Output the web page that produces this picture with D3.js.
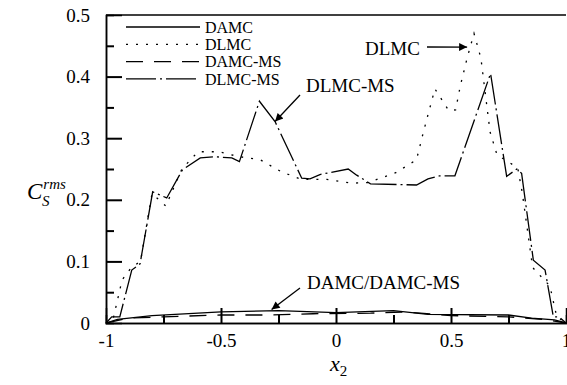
<!DOCTYPE html>
<html>
<head>
<meta charset="utf-8">
<script src="https://cdn.jsdelivr.net/npm/d3@7"></script>
<style>
  body { margin: 0; background: #fff; }
  svg text { font-family: "Liberation Serif", "Times New Roman", Times, "DejaVu Serif", serif; fill: #000; }
</style>
</head>
<body>
<div id="chart"></div>
<script>
'use strict'

////////////////////////////////////
////////////// data ////////////////
////////////////////////////////////

const series_names = ['DAMC', 'DLMC', 'DAMC-MS', 'DLMC-MS']

const damc = [[-1,0],[-0.95,0.006],[-0.8,0.012],[-0.5,0.018],[-0.25,0.02],[0,0.017],[0.25,0.02],[0.4,0.014],[0.75,0.013],[0.85,0.008],[0.95,0.005],[1,0]]

const dlmc = [[-1,0],[-0.97,0.005],[-0.93,0.07],[-0.89,0.09],[-0.85,0.1],[-0.8,0.21],[-0.74,0.19],[-0.67,0.25],[-0.6,0.278],
    [-0.51,0.278],[-0.42,0.27],[-0.33,0.265],[-0.24,0.246],[-0.15,0.233],[-0.04,0.233],[0.07,0.227],[0.14,0.228],[0.26,0.244],
    [0.35,0.265],[0.38,0.31],[0.43,0.38],[0.49,0.345],[0.52,0.346],[0.54,0.384],[0.57,0.43],[0.6,0.47],[0.63,0.43],[0.67,0.31],
    [0.7,0.273],[0.79,0.252],[0.81,0.211],[0.855,0.09],[0.93,0.06],[0.96,0.01],[1,0]]

const damc_ms = [[-1,0],[-0.9,0.008],[-0.75,0.01],[-0.5,0.013],[-0.3,0.013],[-0.1,0.015],[0.15,0.016],[0.3,0.018],[0.5,0.012],[0.75,0.01],[0.9,0.006],[1,0]]

const dlmc_ms = [[-1,0],[-0.975,0.01],[-0.94,0.01],[-0.888,0.086],[-0.852,0.096],[-0.797,0.213],[-0.736,0.203],[-0.667,0.249],
    [-0.59,0.268],[-0.53,0.27],[-0.453,0.268],[-0.42,0.262],[-0.333,0.36],[-0.265,0.327],[-0.149,0.235],[-0.113,0.234],
    [-0.07,0.241],[0.053,0.25],[0.09,0.24],[0.15,0.226],[0.35,0.224],[0.4,0.234],[0.45,0.239],[0.517,0.239],[0.672,0.405],
    [0.742,0.238],[0.786,0.25],[0.807,0.243],[0.858,0.102],[0.909,0.086],[0.945,0.01],[0.97,0.01],[1,0]]

const x_ticks = [-1, -0.5, 0, 0.5, 1]
const x_minor = [-0.75, -0.25, 0.25, 0.75]
const y_ticks = [0, 0.1, 0.2, 0.3, 0.4, 0.5]
const y_minor = [0.05, 0.15, 0.25, 0.35, 0.45]

////////////////////////////////////
//////////// svg setup /////////////
////////////////////////////////////

const svgWidth = 567
const svgHeight = 385
const margin = { left: 106, right: 1, top: 15, bottom: 62 }
const width = svgWidth - margin.left - margin.right
const height = svgHeight - margin.top - margin.bottom
const serif = '"Liberation Serif", "Times New Roman", Times, serif'

const root = d3.select('#chart').append('svg')
    .attr('width', svgWidth)
    .attr('height', svgHeight)
    .attr('font-family', serif)

const svg = root.append('g')
    .attr('transform', `translate(${margin.left},${margin.top})`)

////////////////////////////////////
//////////////scales////////////////
////////////////////////////////////

const xScale = d3.scaleLinear().domain([-1, 1]).range([0, width])
const yScale = d3.scaleLinear().domain([0, 0.5]).range([height, 0])

const styles = {
    'DAMC':    { data: damc,    dash: null },
    'DLMC':    { data: dlmc,    dash: '2,8' },
    'DAMC-MS': { data: damc_ms, dash: '17,11' },
    'DLMC-MS': { data: dlmc_ms, dash: '30,4,2,4' }
}

////////////////////////////////////
///////////////axis/////////////////
////////////////////////////////////

const fmt = d => d === 0 ? '0' : String(d)

const xAxis = svg.append('g')
    .attr('transform', `translate(0,${height})`)
    .call(d3.axisBottom(xScale).tickValues(x_ticks).tickFormat(fmt).tickSize(-15).tickPadding(11))
svg.append('g')
    .attr('transform', `translate(0,${height})`)
    .call(d3.axisBottom(xScale).tickValues(x_minor).tickFormat('').tickSize(-8))

const yAxis = svg.append('g')
    .call(d3.axisLeft(yScale).tickValues(y_ticks).tickFormat(fmt).tickSize(-16).tickPadding(16))
svg.append('g')
    .call(d3.axisLeft(yScale).tickValues(y_minor).tickFormat('').tickSize(-8))

svg.selectAll('g').attr('font-family', serif)
svg.selectAll('.domain').attr('stroke', '#000').attr('stroke-width', 1.5)
svg.selectAll('.tick line').attr('stroke', '#000').attr('stroke-width', 2)
svg.selectAll('.tick text').attr('font-size', 19)
// hide the end ticks at the corners
xAxis.selectAll('.tick').filter(d => d === -1 || d === 1).select('line').remove()
yAxis.selectAll('.tick').filter(d => d === 0 || d === 0.5).select('line').remove()

// top frame line
svg.append('line')
    .attr('x1', 0).attr('x2', width)
    .attr('y1', 0).attr('y2', 0)
    .attr('stroke', '#000').attr('stroke-width', 1.5)

////////////////////////////////////
/////////////// DOM ////////////////
////////////////////////////////////

const line = d3.line()
    .x(d => xScale(d[0]))
    .y(d => yScale(d[1]))

series_names.forEach(name => {
    svg.append('path')
        .attr('fill', 'none')
        .attr('stroke', '#000')
        .attr('stroke-width', 1.3)
        .attr('stroke-dasharray', styles[name].dash)
        .attr('d', line(styles[name].data))
})

// legend
const legend = root.append('g')
series_names.forEach((name, i) => {
    const y = 27 + i * 17.3
    legend.append('line')
        .attr('x1', 126).attr('x2', 200)
        .attr('y1', y).attr('y2', y)
        .attr('stroke', '#000').attr('stroke-width', 1.3)
        .attr('stroke-dasharray', styles[name].dash)
    legend.append('text')
        .attr('x', 205).attr('y', y)
        .attr('dy', '0.35em')
        .attr('font-size', 16)
        .text(name)
})

// annotations
const defs = root.append('defs')
defs.append('marker')
    .attr('id', 'arrow')
    .attr('viewBox', '0 0 10 10')
    .attr('refX', 10).attr('refY', 5)
    .attr('markerWidth', 10).attr('markerHeight', 8)
    .attr('markerUnits', 'userSpaceOnUse')
    .attr('orient', 'auto')
    .append('path').attr('d', 'M0,0 L10,5 L0,10 Z').attr('fill', '#000')

const notes = [
    { text: 'DLMC', tx: 365, ty: 48, from: [427, 47], to: [0.57, 0.448] },
    { text: 'DLMC-MS', tx: 306, ty: 85, from: [300, 95], to: [-0.265, 0.327] },
    { text: 'DAMC/DAMC-MS', tx: 307, ty: 282, from: [300, 288], to: [-0.28, 0.022] }
]

notes.forEach(n => {
    root.append('text')
        .attr('x', n.tx).attr('y', n.ty)
        .attr('dy', '0.35em')
        .attr('font-size', 19)
        .text(n.text)
    root.append('line')
        .attr('x1', n.from[0]).attr('y1', n.from[1])
        .attr('x2', margin.left + xScale(n.to[0]))
        .attr('y2', margin.top + yScale(n.to[1]))
        .attr('stroke', '#000').attr('stroke-width', 1.3)
        .attr('marker-end', 'url(#arrow)')
})

// axis titles
const ytitle = root.append('text')
    .attr('x', 27).attr('y', 199)
    .attr('font-style', 'italic')
ytitle.append('tspan').attr('font-size', 23).text('C')
ytitle.append('tspan').attr('font-size', 15).attr('dy', -10).attr('dx', 1).text('rms')
ytitle.append('tspan').attr('font-size', 15).attr('x', 42).attr('dy', 17).text('S')

const xtitle = root.append('text')
    .attr('x', 330).attr('y', 371)
    .attr('font-style', 'italic')
xtitle.append('tspan').attr('font-size', 22).text('x')
xtitle.append('tspan').attr('font-size', 15).attr('font-style', 'normal').attr('dy', 5).text('2')
</script>
</body>
</html>
